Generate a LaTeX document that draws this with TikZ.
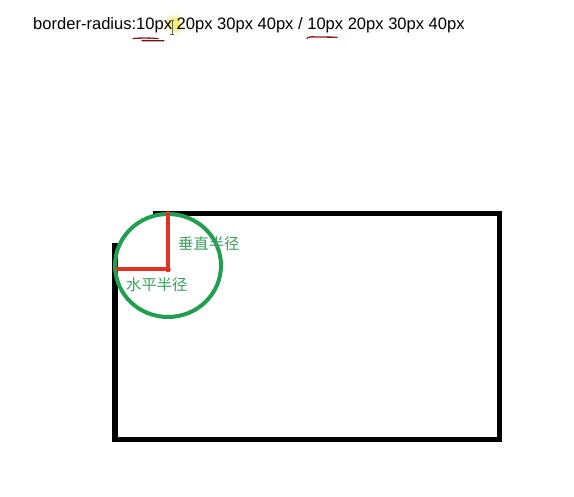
\documentclass[tikz,border=0pt]{standalone}
\usepackage{fontspec}
\setmainfont{Liberation Sans}
\newfontfamily\cjk{Noto Sans CJK SC}
\definecolor{boxblack}{RGB}{0,0,0}
\definecolor{circgreen}{RGB}{34,158,80}
\definecolor{labgreen}{RGB}{60,160,95}
\definecolor{radred}{RGB}{225,50,35}
\definecolor{inkred}{RGB}{130,25,25}
\definecolor{glow}{RGB}{245,240,120}
\tikzset{
  boxline/.style={draw=boxblack, line width=5.5pt, line join=miter},
  circline/.style={draw=circgreen, line width=4pt},
  radline/.style={draw=radred, line width=4pt, line cap=round},
  lab/.style={text=labgreen, font=\cjk\fontsize{15.3}{17}\selectfont, inner sep=0pt, anchor=west},
  inkmark/.style={draw=inkred, line width=1.3pt, line cap=round},
}
\begin{document}
\begin{tikzpicture}[x=1pt,y=-1pt]
\useasboundingbox (0,0) rectangle (574,497);
% cursor highlight
\shade[inner color=glow, outer color=white] (174,24) circle (12);
\fill[glow] (174,24) circle (6);
% title
\node[anchor=base west, inner sep=0pt, font=\fontsize{16.55}{18}\selectfont] (title) at (33,30)
  {border-radius:10px 20px 30px 40px / 10px 20px 30px 40px};
% cursor I-beam
\draw[gray!80!black, line width=0.8pt] (172,20) -- (172,34) (170,20) -- (174,20) (170,34) -- (174,34);
% hand-drawn underlines
\draw[inkmark] (133,38.5) .. controls (142,37.8) and (150,38) .. (158,38.6);
\draw[inkmark, draw=inkred!80!black] (142,40.6) -- (164,40.8);
\draw[inkmark, draw=inkred!90!red] (307,38.5) .. controls (308,36.8) and (311,36.6) .. (316,37) -- (337,37.2);
% box with cut corner
\draw[boxline] (153,213.5) -- (499.5,213.5) -- (499.5,439.5) -- (115,439.5) -- (115,243);
% circle
\draw[circline] (168,265.5) ellipse (53 and 51.5);
% radii
\draw[radline] (168,213) -- (168,269.5) -- (118,269.5);
\fill[radred] (168,269.5) circle (2.8);
% labels
\node[lab] (vert) at (178,244) {垂直半径};
\node[lab] (horz) at (126,285) {水平半径};
\end{tikzpicture}
\end{document}
